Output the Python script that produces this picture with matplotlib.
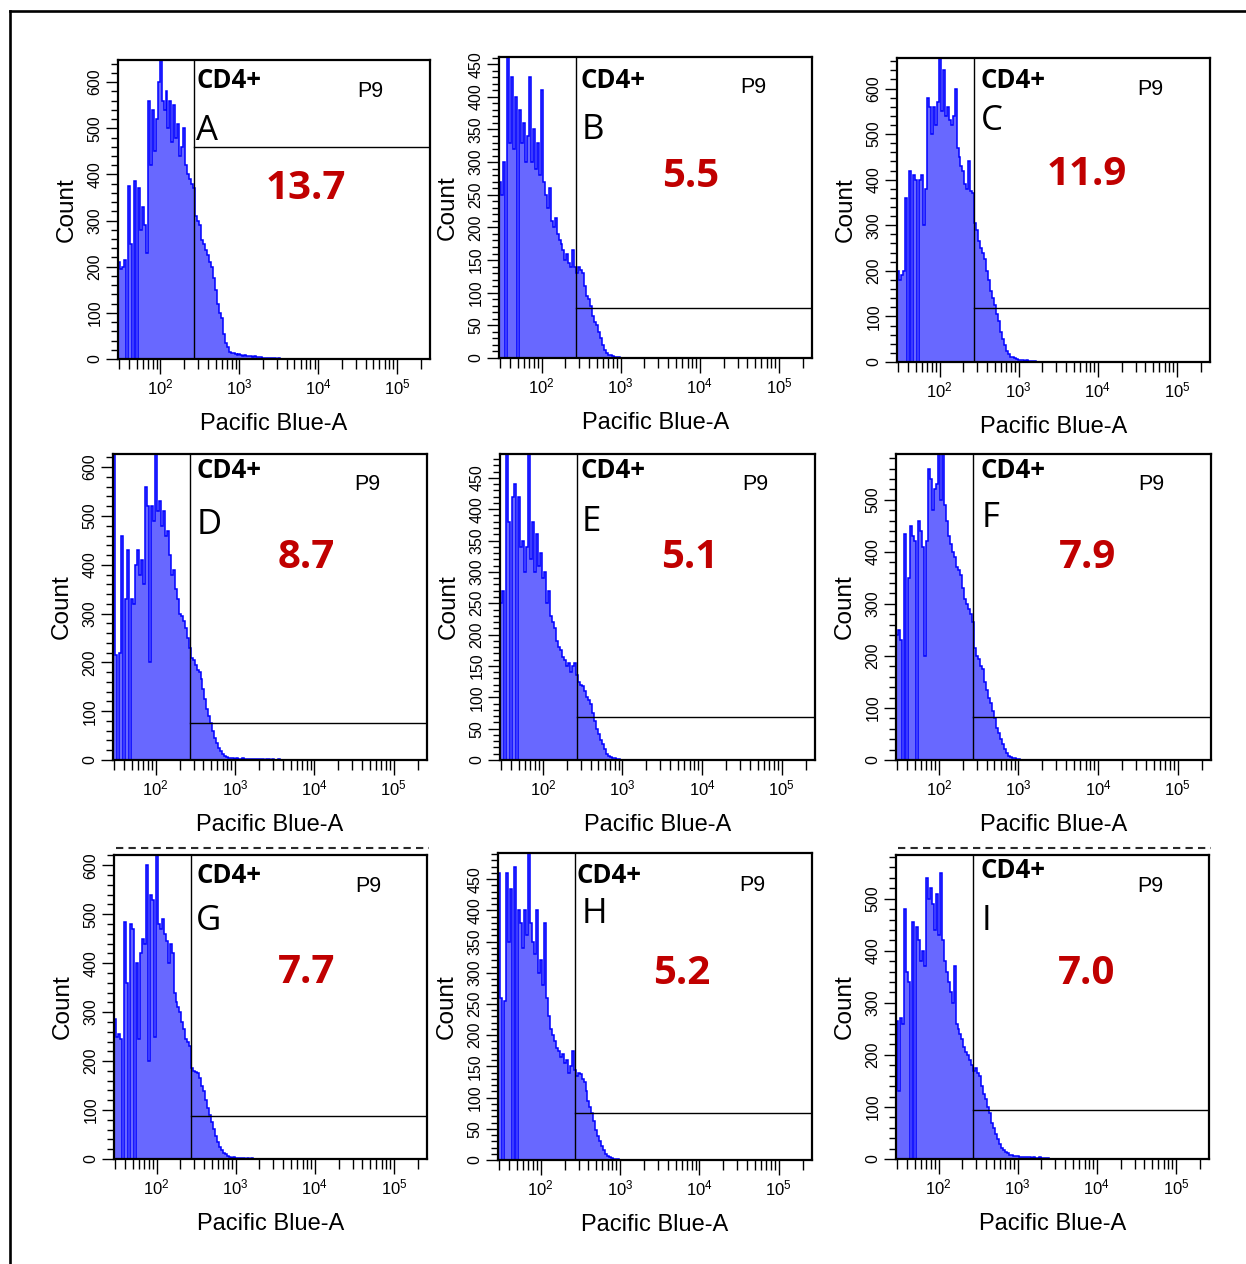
import numpy as np
import matplotlib
matplotlib.use('Agg')
import matplotlib.pyplot as plt
import matplotlib.ticker as mticker
import matplotlib.transforms as mtransforms

# ---------------- data ----------------
LETTERS = ['A', 'B', 'C', 'D', 'E', 'F', 'G', 'H', 'I']
PERCENTS = [13.7, 5.5, 11.9, 8.7, 5.1, 7.9, 7.7, 5.2, 7.0]
Y_MAX = [648, 461, 667, 627, 488, 588, 621, 492, 584]
Y_STEP = [100, 50, 100, 100, 50, 100, 100, 50, 100]
GATE_X = 270          # Pacific Blue-A gate start
GATE_LEVEL = [459, 77, 118, 75, 69, 83, 88, 76, 95]

# histogram bins: log10 start and width (decades)
BIN_LOG_START = 1.44
BIN_LOG_WIDTH = 0.025

COUNTS_A = [200, 210, 195, 200, 215, 0, 375, 250, 0, 385,
            0, 370, 280, 330, 290, 230, 560, 420, 540, 450,
            520, 600, 660, 560, 540, 580, 500, 560, 470, 550,
            480, 510, 440, 460, 500, 420, 400, 390, 380, 370,
            310, 300, 290, 258, 250, 236, 225, 210, 200, 175,
            150, 120, 100, 88, 55, 35, 25, 16, 14, 12,
            10, 9, 10, 8, 7, 8, 6, 7, 6, 5,
            6, 4, 5, 4, 3, 3, 3, 2, 3, 2,
            2, 1, 2, 1, 1, 1, 1, 1, 0]
COUNTS_B = [470, 270, 250, 300, 0, 470, 330, 430, 320, 400,
            0, 380, 330, 360, 300, 340, 430, 300, 350, 290,
            330, 280, 410, 270, 250, 230, 260, 210, 200, 215,
            190, 180, 175, 165, 150, 160, 145, 140, 165, 140,
            130, 140, 135, 130, 110, 95, 90, 80, 65, 55,
            50, 40, 30, 20, 12, 8, 5, 4, 3, 2,
            2, 1, 0]
COUNTS_C = [190, 200, 180, 190, 200, 360, 0, 420, 0, 410,
            400, 0, 400, 410, 300, 380, 580, 560, 500, 560,
            520, 570, 670, 550, 640, 540, 560, 530, 520, 540,
            600, 470, 450, 430, 420, 390, 380, 440, 375, 370,
            305, 290, 265, 250, 240, 225, 200, 180, 155, 140,
            125, 105, 90, 65, 50, 38, 25, 18, 12, 10,
            8, 6, 5, 4, 5, 3, 4, 3, 3, 2,
            2, 1, 0]
COUNTS_D = [225, 630, 215, 0, 220, 460, 0, 330, 430, 0,
            330, 320, 400, 430, 380, 410, 360, 560, 520, 200,
            520, 490, 630, 510, 530, 480, 510, 460, 470, 420,
            380, 390, 350, 330, 300, 295, 285, 270, 250, 230,
            210, 205, 195, 185, 180, 165, 145, 125, 105, 90,
            75, 60, 45, 35, 25, 18, 12, 9, 6, 5,
            4, 4, 3, 4, 3, 3, 4, 3, 3, 2,
            3, 3, 2, 2, 3, 2, 2, 1, 2, 2,
            1, 2, 1, 1, 2, 1, 1, 1, 1, 1,
            1, 1, 0, 1, 0]
COUNTS_E = [490, 250, 270, 0, 490, 380, 0, 420, 440, 0,
            420, 340, 350, 300, 340, 490, 320, 380, 300, 360,
            310, 330, 290, 300, 250, 270, 230, 220, 210, 190,
            180, 175, 165, 160, 150, 155, 140, 150, 155, 135,
            125, 120, 118, 110, 100, 95, 90, 75, 62, 50,
            42, 32, 25, 17, 10, 7, 5, 3, 3, 2,
            1, 0]
COUNTS_F = [245, 240, 250, 230, 0, 435, 0, 350, 450, 430,
            420, 0, 460, 440, 410, 200, 420, 560, 540, 480,
            520, 530, 590, 500, 590, 490, 460, 430, 415, 400,
            390, 370, 365, 355, 330, 310, 300, 290, 280, 265,
            215, 200, 195, 180, 175, 150, 135, 120, 110, 95,
            80, 62, 52, 40, 30, 22, 14, 8, 5, 3,
            3, 2, 1, 0]
COUNTS_G = [280, 285, 250, 255, 245, 0, 485, 360, 0, 480,
            470, 0, 400, 245, 420, 450, 440, 600, 200, 540,
            530, 250, 625, 480, 470, 490, 460, 445, 400, 440,
            420, 340, 320, 310, 300, 280, 265, 245, 240, 230,
            185, 180, 178, 175, 165, 150, 138, 120, 105, 90,
            75, 62, 48, 35, 25, 18, 13, 10, 7, 5,
            3, 4, 2, 3, 2, 2, 3, 1, 2, 1,
            2, 0, 1, 1, 0, 1, 1, 0, 0]
COUNTS_H = [260, 460, 260, 0, 255, 460, 350, 435, 0, 470,
            0, 400, 380, 340, 400, 360, 495, 380, 350, 330,
            400, 300, 320, 280, 380, 260, 230, 210, 200, 190,
            180, 175, 165, 170, 155, 160, 140, 150, 175, 145,
            135, 140, 138, 130, 125, 110, 95, 85, 75, 62,
            48, 38, 30, 22, 16, 10, 7, 5, 3, 2,
            2, 1, 0]
COUNTS_I = [270, 265, 130, 270, 260, 480, 360, 340, 0, 455,
            0, 445, 420, 380, 400, 370, 540, 500, 520, 490,
            440, 510, 430, 550, 420, 380, 360, 340, 320, 300,
            370, 260, 250, 240, 230, 215, 205, 200, 190, 180,
            170, 175, 165, 160, 140, 125, 115, 100, 88, 70,
            60, 48, 38, 28, 22, 18, 13, 11, 8, 7,
            6, 6, 5, 4, 4, 3, 3, 4, 3, 2,
            3, 2, 2, 3, 2, 1, 2, 1, 0]
COUNTS = [COUNTS_A, COUNTS_B, COUNTS_C, COUNTS_D, COUNTS_E,
          COUNTS_F, COUNTS_G, COUNTS_H, COUNTS_I]

# ---------------- layout (pixels) ----------------
W, H = 1246, 1264
AX_PX = [(118, 430, 60, 359), (499, 812, 57, 358), (897, 1210, 58, 362),
         (113, 427, 454, 760), (500, 815, 454, 760), (896, 1211, 454, 760),
         (114, 427, 855, 1159), (498, 812, 853, 1160), (896, 1209, 855, 1159)]
# (cd4 x, cd4 y, letter x, letter y, p9 x, p9 y, pct centre x, pct y) from axes top-left
TXT_PX = [(78, 28, 78, 80, 239, 37, 188, 139),
          (81, 31, 83, 82, 241, 36, 192, 130),
          (83, 30, 84, 72, 240, 37, 190, 127),
          (83, 24, 84, 80, 241, 36, 193, 114),
          (80, 24, 82, 77, 242, 36, 190, 114),
          (84, 24, 86, 73, 242, 36, 191, 114),
          (82, 28, 82, 75, 241, 37, 193, 128),
          (79, 30, 84, 70, 241, 38, 184, 131),
          (84, 23, 86, 75, 241, 37, 191, 129)]

TICK_FONT = 'Liberation Sans'
CAL_FONT = 'Open Sans'

plt.rcParams['font.family'] = ['Liberation Sans', 'DejaVu Sans']
plt.rcParams['mathtext.fontset'] = 'custom'
plt.rcParams['mathtext.rm'] = TICK_FONT
plt.rcParams['mathtext.it'] = TICK_FONT
plt.rcParams['mathtext.default'] = 'rm'

FILL = '#6868FF'
EDGE = '#0000FF'

fig = plt.figure(figsize=(W / 100, H / 100), dpi=100)


def off(dx, dy):
    return mtransforms.ScaledTranslation(dx / 100, -dy / 100, fig.dpi_scale_trans)


# outer frame (only top and left edges fall inside the picture)
fig.add_artist(plt.Line2D([10 / W, 1], [1 - 11 / H, 1 - 11 / H], color='black', lw=1.9,
                          transform=fig.transFigure))
fig.add_artist(plt.Line2D([10 / W, 10 / W], [1 - 11 / H, 0], color='black', lw=1.9,
                          transform=fig.transFigure))

edges_log = BIN_LOG_START + BIN_LOG_WIDTH * np.arange(max(len(c) for c in COUNTS) + 1)

for k in range(9):
    l, r, t, b = AX_PX[k]
    ax = fig.add_axes([l / W, 1 - b / H, (r - l) / W, (b - t) / H])
    counts = np.array(COUNTS[k], dtype=float)
    edges = 10 ** edges_log[:len(counts) + 1]
    ax.stairs(counts, edges, baseline=0, fill=True, facecolor=FILL, edgecolor='none')
    ax.stairs(counts, edges, baseline=0, color=EDGE, lw=1.1)

    ax.set_xscale('log')
    ax.set_xlim(29, 262143)
    ax.set_ylim(0, Y_MAX[k])

    # gate P9
    ax.axvline(GATE_X, color='black', lw=1.0)
    ax.plot([GATE_X, 262143], [GATE_LEVEL[k], GATE_LEVEL[k]], color='black', lw=1.0)

    for s in ax.spines.values():
        s.set_linewidth(1.6)
        s.set_color('black')

    ax.xaxis.set_major_locator(mticker.FixedLocator([1e2, 1e3, 1e4, 1e5]))
    ax.xaxis.set_major_formatter(mticker.FuncFormatter(
        lambda v, p: '$10^{%d}$' % round(np.log10(v))))
    ax.xaxis.set_minor_locator(mticker.LogLocator(base=10, subs=np.arange(2, 10), numticks=20))
    ax.xaxis.set_minor_formatter(mticker.NullFormatter())
    step = Y_STEP[k]
    ax.yaxis.set_major_locator(mticker.MultipleLocator(step))
    ax.yaxis.set_minor_locator(mticker.MultipleLocator(step / 5))

    ax.tick_params(axis='x', which='major', direction='out', length=10.5, width=1.0,
                   pad=3, labelsize=12, labelfontfamily=TICK_FONT)
    ax.tick_params(axis='x', which='minor', direction='out', length=7, width=1.0)
    ax.tick_params(axis='y', which='major', direction='out', length=8.6, width=1.0,
                   pad=2.5, labelsize=11.5, labelrotation=90, labelfontfamily=TICK_FONT)
    ax.tick_params(axis='y', which='minor', direction='out', length=5, width=1.0)
    for lab in ax.get_yticklabels():
        lab.set_va('center')

    ax.text(0, 0.5, 'Count', rotation=90, ha='center', va='center', fontsize=17.5,
            transform=ax.transAxes + off(-51, 0))
    ax.text(0.5, 0, 'Pacific Blue-A', ha='center', va='baseline', fontsize=17,
            transform=ax.transAxes + off(0, 71))

    cx, cy, lx, ly, px, py, vx, vy = TXT_PX[k]
    ax.text(0, 1, 'CD4+', ha='left', va='baseline', fontsize=18.5, fontweight='bold',
            family=CAL_FONT, transform=ax.transAxes + off(cx, cy))
    ax.text(0, 1, LETTERS[k], ha='left', va='baseline', fontsize=25,
            family=CAL_FONT, transform=ax.transAxes + off(lx, ly))
    ax.text(0, 1, 'P9', ha='left', va='baseline', fontsize=15.5,
            transform=ax.transAxes + off(px, py))
    ax.text(0, 1, f'{PERCENTS[k]:.1f}', ha='center', va='baseline', fontsize=29,
            fontweight='bold', color='#C00000', family=CAL_FONT,
            transform=ax.transAxes + off(vx, vy))

# cut-off strip left over above the G and I panels
for k in (6, 8):
    l, r, t, b = AX_PX[k]
    fig.add_artist(plt.Line2D([(l + 2) / W, (r + 2) / W], [1 - 847.5 / H, 1 - 847.5 / H],
                              color='#2a2a2a', lw=1.5, dashes=(3.5, 2.5),
                              transform=fig.transFigure))

fig.savefig('out.png', dpi=100)
